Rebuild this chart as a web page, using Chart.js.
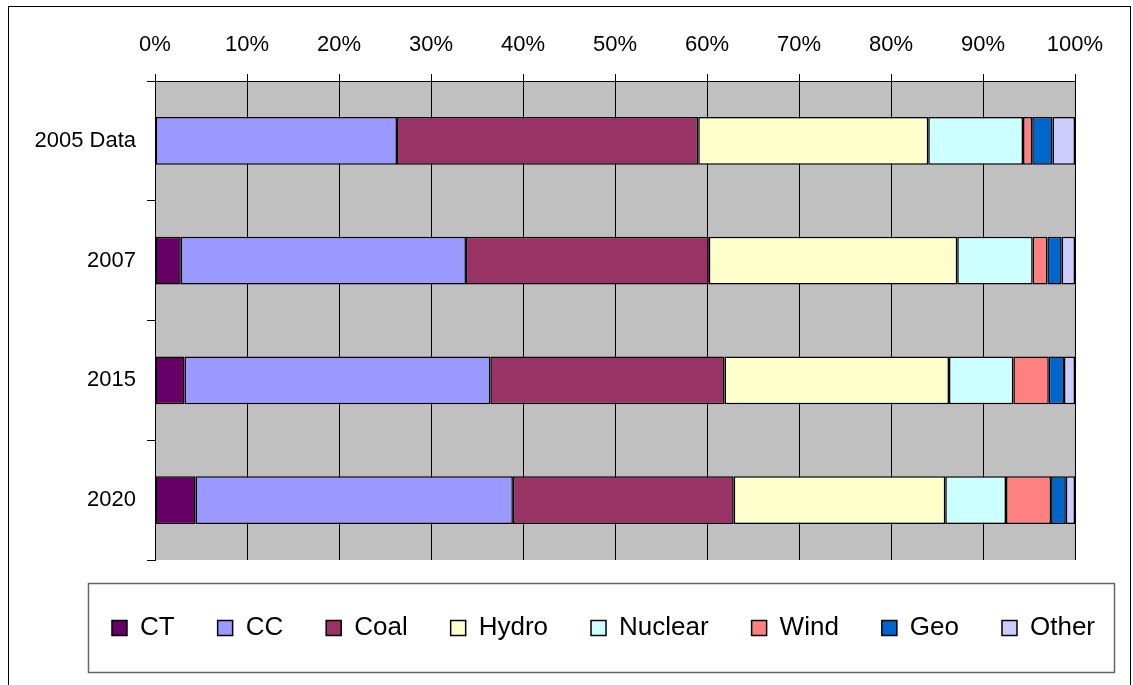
<!DOCTYPE html>
<html>
<head>
<meta charset="utf-8">
<script src="https://cdn.jsdelivr.net/npm/chart.js@4"></script>
<style>
  body { margin: 0; background: #fff; }
  #wrap { width: 1133px; height: 685px; }
</style>
</head>
<body>
<div id="wrap"><canvas id="myChart" width="1133" height="685"></canvas></div>
<script>
var categories = ["2005 Data", "2007", "2015", "2020"];
var xTicks = [0, 10, 20, 30, 40, 50, 60, 70, 80, 90, 100];

// share of each resource, percent
var ct      = [0,     2.8,  3.2,   4.4];
var cc      = [26.3,  31.0, 33.25, 34.5];
var coal    = [32.75, 26.4, 25.45, 24.0];
var hydro   = [25.0,  27.0, 24.4,  23.0];
var nuclear = [10.3,  8.2,  7.0,   6.6];
var wind    = [1.0,   1.6,  3.85,  4.9];
var geo     = [2.2,   1.55, 1.65,  1.6];
var other   = [2.45,  1.45, 1.2,   1.0];

var font = "'Liberation Sans', Arial, sans-serif";

function series(label, data, color) {
    return {
        label: label,
        data: data,
        backgroundColor: color,
        borderColor: "#000",
        borderWidth: 1.5,
        borderSkipped: false,
        categoryPercentage: 1,
        barPercentage: 0.4,
    };
}

var chartBg = {
    id: "chartBg",
    beforeDraw: function (chart) {
        var c = chart.ctx, a = chart.chartArea;
        c.save();
        c.fillStyle = "#fff";
        c.fillRect(0, 0, chart.width, chart.height);
        c.fillStyle = "#c0c0c0";
        c.fillRect(a.left, a.top, a.right - a.left, a.bottom - a.top);
        c.restore();
    },
    afterDraw: function (chart) {
        var c = chart.ctx;
        var boxes = chart.legend.legendHitBoxes;
        var first = boxes[0], last = boxes[boxes.length - 1];
        var cy = first.top + first.height / 2;
        var x0 = first.left - 24, x1 = last.left + last.width + 19;
        c.save();
        // legend frame
        c.strokeStyle = "#666";
        c.lineWidth = 1.5;
        c.strokeRect(Math.round(x0) + 0.5, Math.round(cy - 45) + 0.5, Math.round(x1 - x0), 89);
        // outer frame
        c.strokeStyle = "#000";
        c.lineWidth = 1;
        c.strokeRect(8.5, 6.5, 1122, 700);
        c.restore();
    },
};

var ctx = document.getElementById("myChart").getContext("2d");
var myChart = new Chart(ctx, {
    type: "bar",
    data: {
        labels: categories,
        datasets: [
            series("CT", ct, "#660066"),
            series("CC", cc, "#9999ff"),
            series("Coal", coal, "#993366"),
            series("Hydro", hydro, "#ffffcc"),
            series("Nuclear", nuclear, "#ccffff"),
            series("Wind", wind, "#ff8080"),
            series("Geo", geo, "#0066cc"),
            series("Other", other, "#ccccff"),
        ],
    },
    options: {
        indexAxis: "y",
        responsive: false,
        devicePixelRatio: 1,
        animation: false,
        layout: { padding: { left: 20, right: -54, top: 16, bottom: 34 } },
        scales: {
            x: {
                position: "top",
                stacked: true,
                min: 0,
                max: 100,
                afterBuildTicks: function (axis) {
                    axis.ticks = xTicks.map(function (v) { return { value: v }; });
                },
                afterFit: function (axis) { axis.paddingRight = 58; },
                ticks: {
                    padding: 18,
                    color: "#000",
                    maxRotation: 0,
                    font: { family: font, size: 22, lineHeight: 1 },
                    callback: function (v) { return v + "%"; },
                },
                grid: { color: "#000", lineWidth: 1, tickLength: 7 },
                border: { color: "#000", width: 1 },
            },
            y: {
                stacked: true,
                afterFit: function (axis) { axis.width = 135; },
                ticks: {
                    padding: 11,
                    color: "#000",
                    font: { family: font, size: 22 },
                },
                grid: { offset: true, drawOnChartArea: false, color: "#000", tickLength: 8 },
                border: { color: "#000", width: 1 },
            },
        },
        plugins: {
            legend: {
                position: "bottom",
                title: { display: true, text: " ", font: { size: 12, lineHeight: 1 }, padding: 0 },
                labels: {
                    color: "#000",
                    font: { family: font, size: 26 },
                    boxWidth: 15,
                    boxHeight: 15,
                    padding: 43,
                },
            },
            tooltip: { enabled: false },
        },
    },
    plugins: [chartBg],
});
</script>
</body>
</html>
